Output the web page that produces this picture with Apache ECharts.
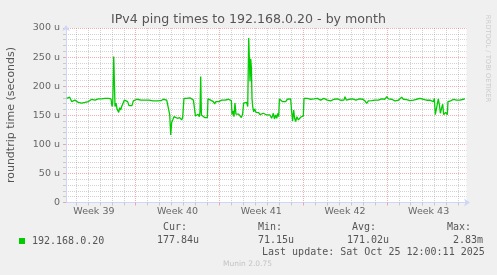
<!DOCTYPE html>
<html><head><meta charset="utf-8">
<script src="https://cdn.jsdelivr.net/npm/echarts@6/dist/echarts.min.js"></script>
<style>html,body{margin:0;padding:0;background:#f0f0f0}#c{width:497px;height:275px}</style>
</head><body><div id="c"></div>
<script>
// x unit: one 2-hour sample step (Munin monthly resolution); step 0 = left edge of the graph
const sampleStep = [0.7,2.4,3.7,5.7,7.4,9.0,10.7,12.4,14.1,15.8,17.5,19.1,20.8,22.5,24.1,25.8,27.5,29.1,30.8,32.5,34.1,35.8,37.5,39.1,40.8,42.6,44.2,45.2,46.2,46.9,47.9,49.2,50.2,51.2,52.2,52.9,53.9,54.9,55.9,57.2,58.6,60.2,61.9,63.2,64.9,66.2,67.6,69.2,71.3,73.3,75.3,77.3,79.3,81.3,83.3,85.3,87.3,89.3,91.3,93.3,95.3,
97.7,99.4,101.1,102.1,103.1,104.1,105.1,106.1,107.1,108.4,109.4,110.4,111.8,112.8,114.1,115.1,116.1,117.1,117.8,118.4,119.8,121.1,122.8,124.4,126.2,127.9,129.2,129.9,131.2,132.5,133.9,134.5,135.2,135.9,136.9,137.9,139.2,140.5,141.9,142.5,143.9,145.2,146.5,147.9,149.2,150.5,151.9,153.2,154.6,156.3,158.0,159.6,161.3,163.0,164.6,166.0,166.6,167.6,168.6,169.6,170.6,172.0,173.3,174.6,176.0,177.3,178.3,179.3,180.3,181.3,182.4,183.4,184.1,184.7,185.4,186.1,186.7,187.4,188.4,189.4,190.7,192.1,193.4,194.7,196.1,
198.1,199.7,201.4,203.1,204.7,206.4,208.1,209.2,210.5,211.5,212.5,213.5,214.2,215.5,217.2,218.8,220.5,222.2,223.8,225.5,226.5,227.5,228.5,229.5,230.5,231.8,233.2,234.5,235.8,237.2,238.2,238.9,240.6,242.3,243.9,245.6,247.3,248.9,250.6,252.3,253.9,255.6,257.3,258.9,260.6,262.3,263.9,265.7,267.4,269.0,270.7,272.4,274.0,275.7,277.4,279.0,280.0,281.4,282.7,284.4,286.0,287.7,289.4,291.0,292.8,294.5,296.1,297.8,
300.1,301.8,303.5,305.1,306.8,308.5,310.1,311.8,313.5,315.1,316.8,318.5,320.1,321.9,323.6,325.2,326.9,328.6,330.2,331.9,333.6,335.2,336.9,338.6,340.2,341.9,343.6,345.2,346.9,348.6,350.3,351.9,353.6,355.3,357.0,358.7,360.3,362.0,363.7,365.3,367.0,368.7,369.7,370.7,371.7,372.7,373.7,374.8,375.8,377.1,378.1,379.1,380.1,381.1,382.1,382.8,383.4,384.4,386.1,387.8,389.1,390.4,392.1,393.8,395.4,397.1,398.8,400.4];
// round trip time in microseconds
const rttMicro = [179,180,181,173.5,171,176,173.5,172,173.5,171,171,172,169.5,173.5,176,177.5,177.5,176,178,178,179,178,180,179,180,179,179,178,165,171,251,165,171,161,157.6,155,163,159,165,166.6,176,173.5,173.5,166.6,168,166.6,174.7,177.5,177.5,174.7,176,177.5,176,178,176,173.5,174.7,175,174.7,174.7,175,
177.5,174.7,176,177.5,173.5,151,116,138,142,147.6,144.8,149.4,144.8,147.6,146,149,142,146,147.6,179,177.5,179,176,180,178,176,174.7,148.8,147.6,151.6,147.6,156,216.6,150.5,147.6,150.5,146,147.6,146,178,179,176,177.5,173.5,169.5,173.5,171,173.5,174.7,176,175,176,178,177.5,176,175,151,157.6,147.6,171,152,149.4,152,149,146,152,171,173.5,167.8,172,165,282.7,244,208,247,231,179,165,156,161,155,152,154.5,151,153,
153.4,151.7,150.5,147.6,150.5,144.8,153.4,143.6,150.5,144.8,153.4,147.6,178,174.7,173.5,175,173.5,177.5,175,178,156,140.2,159,144.8,139.1,147.6,142,144.8,147,147.6,149,179,177.5,179,176,177.5,174.7,178,176,179,177.5,176,178,179,177.5,176,173.5,174.7,175.8,177.5,176,178,176,175.8,179,176,182,176,179,177.5,180.4,178,179,176,179,178,179,177.5,
174.7,170.6,174.7,173.5,175,175.8,176,175,176,177.5,178,176,177.5,182,178,177,177.5,175,174.7,173.5,175.8,178,181,177.5,176,177,177.5,175,178,176,178,177.5,176,179,176,177.5,174.7,175.8,174.7,176,176,173.5,179,151,152,149.4,178,167.8,153.4,163,169,151,147.6,155,153.4,151,173.5,176,174.7,173.5,177.5,174.7,176,177.5,176,179,177.5,178];

const weekLabels = ['Week 39','Week 40','Week 41','Week 42','Week 43'];
const weekCenters = [28,112,196,280,364];
const weekBoundaries = [70,154,238,322];
const yTickLabels = ['0','50 u','100 u','150 u','200 u','250 u','300 u'];
const seriesName = '192.168.0.20';
const chartTitle = 'IPv4 ping times to 192.168.0.20 - by month';
const yAxisTitle = 'roundtrip time (seconds)';
const legendHeaders = ['Cur:','Min:','Avg:','Max:'];
const legendValues = ['177.84u','71.15u','171.02u','2.83m'];
const lastUpdate = 'Last update: Sat Oct 25 12:00:11 2025';
const footer = 'Munin 2.0.75';
const watermark = 'RRDTOOL / TOBI OETIKER';

const X_MAX = 402;
const dayTicks = [];
for (let s = 10; s < X_MAX; s += 12) if (weekBoundaries.indexOf(s) < 0) dayTicks.push(s);

const AXIS = '#CFD6F8', MINOR = 'rgba(143,143,143,0.4)', MAJOR = 'rgba(224,80,80,0.45)';
const FONT = '#555555';
const SANS = 'DejaVu Sans', MONO = 'DejaVu Sans Mono';

const headerX = [163, 258, 352, 447];
const valueX = [157, 258, 347, 453];
const graphic = [
  {type:'text', x:248.5, y:19.5, silent:true, style:{text:chartTitle, fill:FONT, fontFamily:SANS, fontSize:12.6, align:'center', verticalAlign:'middle'}},
  {type:'text', x:11, y:115, rotation:Math.PI/2, silent:true, style:{text:yAxisTitle, fill:FONT, fontFamily:SANS, fontSize:11, align:'center', verticalAlign:'middle'}},
  {type:'text', x:262, y:252, silent:true, style:{text:lastUpdate, fill:FONT, fontFamily:MONO, fontSize:10, align:'left', verticalAlign:'middle'}},
  {type:'text', x:247.5, y:264, silent:true, style:{text:footer, fill:'#c4c4c4', fontFamily:SANS, fontSize:7.5, align:'center', verticalAlign:'middle'}},
  {type:'text', x:488, y:58.5, rotation:-Math.PI/2, silent:true, style:{text:watermark, fill:'#cccccc', fontFamily:SANS, fontSize:6.8, align:'center', verticalAlign:'middle'}}
];
legendHeaders.forEach((t, i) => graphic.push({type:'text', x:headerX[i], y:227, silent:true, style:{text:t, fill:FONT, fontFamily:MONO, fontSize:10, align:'left', verticalAlign:'middle'}}));
legendValues.forEach((t, i) => graphic.push({type:'text', x:valueX[i], y:240, silent:true, style:{text:t, fill:FONT, fontFamily:MONO, fontSize:10, align:'left', verticalAlign:'middle'}}));

const chart = echarts.init(document.getElementById('c'), null, {renderer:'canvas'});
chart.setOption({
  backgroundColor:'#f0f0f0',
  animation:false,
  textStyle:{fontFamily:SANS},
  grid:{left:66, top:28, width:400.5, height:174.5, show:true, backgroundColor:'#ffffff', borderWidth:0},
  xAxis:[
    {type:'value', min:0, max:X_MAX, position:'bottom',
     axisLine:{show:true, onZero:false, lineStyle:{color:AXIS, width:1}, symbol:['none','arrow'], symbolSize:[6,6], symbolOffset:[0,3.5]},
     axisTick:{show:true, customValues:dayTicks, length:3, lineStyle:{color:MINOR}},
     axisLabel:{show:false},
     splitLine:{show:true, lineStyle:{color:MINOR, type:'dotted', width:1}}},
    {type:'value', min:0, max:X_MAX, position:'bottom',
     axisLine:{show:false, onZero:false},
     axisTick:{show:true, customValues:weekBoundaries, length:3, lineStyle:{color:MAJOR}},
     axisLabel:{show:true, customValues:weekCenters, formatter:v => weekLabels[weekCenters.indexOf(v)], color:'#666', fontFamily:SANS, fontSize:9.5, margin:4},
     splitLine:{show:true, lineStyle:{color:MAJOR, type:'dotted', width:1}}}
  ],
  yAxis:{type:'value', min:0, max:300, interval:50,
    axisLine:{show:true, lineStyle:{color:AXIS, width:1}, symbol:['none','arrow'], symbolSize:[6,6], symbolOffset:[0,3]},
    axisTick:{show:true, length:3, lineStyle:{color:MAJOR}},
    minorTick:{show:true, splitNumber:5, length:3, lineStyle:{color:MINOR}},
    axisLabel:{formatter:v => yTickLabels[Math.round(v/50)], color:'#666', fontFamily:SANS, fontSize:9.5, margin:6},
    splitLine:{show:true, lineStyle:{color:MAJOR, type:'dotted', width:1}},
    minorSplitLine:{show:true, lineStyle:{color:MINOR, type:'dotted', width:1}}},
  legend:{data:[seriesName], left:14, top:231, icon:'rect', itemWidth:6, itemHeight:6, selectedMode:false,
    textStyle:{fontFamily:MONO, fontSize:10, color:FONT, padding:[0,0,0,2]}},
  series:[{type:'line', name:seriesName, xAxisIndex:0, data:sampleStep.map((s, i) => [s, rttMicro[i]]),
    showSymbol:false, symbol:'none', lineStyle:{color:'#00cc00', width:1.3}, itemStyle:{color:'#00cc00'}, clip:true}],
  graphic:graphic
});
</script></body></html>
